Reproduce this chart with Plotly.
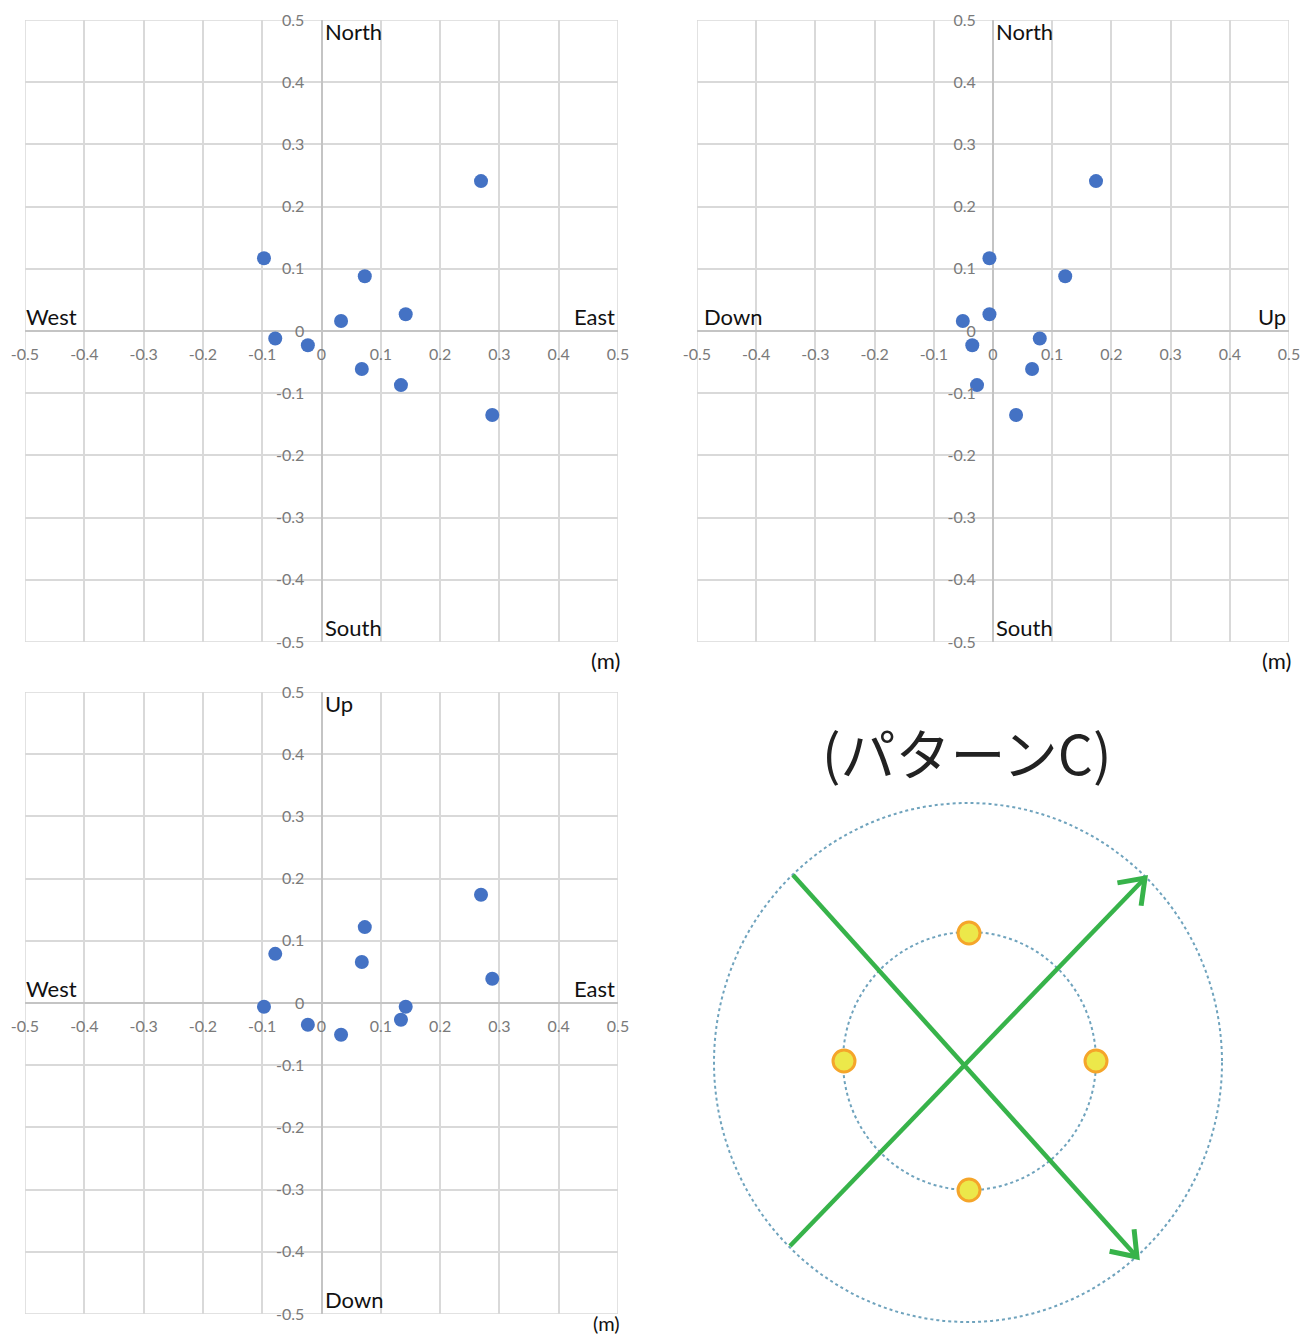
import math
import plotly.graph_objects as go

# ---------------- data (m) ----------------
east  = [0.269, -0.097, 0.073, 0.142, 0.033, -0.078, -0.023, 0.068, 0.134, 0.288]
north = [0.241, 0.117, 0.088, 0.027, 0.016, -0.012, -0.023, -0.061, -0.087, -0.135]
up    = [0.174, -0.006, 0.122, -0.006, -0.051, 0.079, -0.035, 0.066, -0.027, 0.039]

tick_vals = [-0.5, -0.4, -0.3, -0.2, -0.1, 0, 0.1, 0.2, 0.3, 0.4, 0.5]
tick_text = ["-0.5", "-0.4", "-0.3", "-0.2", "-0.1", "0", "0.1", "0.2", "0.3", "0.4", "0.5"]

# schematic (pattern C) geometry, diagram units
outer_circle = [-254, 254, -260, 259]      # x0, x1, y0, y1
inner_circle = [-125, 128, -128, 130]
sensor_x = [1, -124, 128, 1]
sensor_y = [129, 1, 1, -128]
arrow1 = [(-175, 187), (169, -195)]
arrow2 = [(-178, -184), (177, 184)]
title_text = "(パターンC)"

W, H = 1303, 1340
BLUE = "#4472C4"
GRID = "#d9d9d9"
TICKC = "#7a7a7a"
FONT = "Lato"

fig = go.Figure()

panels = [
    (east, north, 25, 618, 20, 642, dict(top="North", bottom="South", left="West", right="East")),
    (up, north, 697, 1289, 20, 642, dict(top="North", bottom="South", left="Down", right="Up")),
    (east, up, 25, 618, 692, 1314, dict(top="Up", bottom="Down", left="West", right="East")),
]

annotations = []
shapes = []
for i, (xd, yd, pl, pr, pt, pb, lab) in enumerate(panels, start=1):
    xs = "" if i == 1 else str(i)
    xname, yname = "x" + xs, "y" + xs
    xdom = [pl / W, pr / W]
    ydom = [1 - pb / H, 1 - pt / H]
    x0paper = (pl + pr) / 2 / W
    y0paper = 1 - (pt + pb) / 2 / H
    fig.add_trace(go.Scatter(
        x=xd, y=yd, mode="markers", xaxis=xname, yaxis=yname,
        marker=dict(size=14, color=BLUE), showlegend=False, hoverinfo="x+y"))
    common = dict(range=[-0.5, 0.5], tickvals=tick_vals, ticktext=tick_text,
                  showgrid=True, gridcolor=GRID, gridwidth=1.5,
                  zeroline=True, zerolinecolor="#c4c4c4", zerolinewidth=2,
                  showline=False, ticks="outside", tickcolor="rgba(0,0,0,0)",
                  tickfont=dict(family=FONT, size=16, color=TICKC),
                  anchor="free", fixedrange=True, automargin=False)
    fig.update_layout(**{
        ("xaxis" + xs): dict(domain=xdom, position=y0paper, ticklen=9, **common),
        ("yaxis" + xs): dict(domain=ydom, position=x0paper, ticklen=14, **common),
    })
    shapes.append(dict(type="rect", xref=xname, yref=yname, x0=-0.5, x1=0.5, y0=-0.5, y1=0.5,
                       line=dict(color=GRID, width=1.5), layer="below"))
    lf = dict(family=FONT, size=22, color="#111111")
    mf = dict(family=FONT, size=(22 if i < 3 else 20), color="#111111")
    annotations += [
        dict(xref=xname, yref=yname, x=0, y=0.5, text=lab["top"], showarrow=False,
             xanchor="left", yanchor="top", xshift=1, yshift=4, font=lf),
        dict(xref=xname, yref=yname, x=0, y=-0.5, text=lab["bottom"], showarrow=False,
             xanchor="left", yanchor="bottom", xshift=1, yshift=-1, font=lf),
        dict(xref=xname, yref=yname, x=-0.5, y=0, text=lab["left"], showarrow=False,
             xanchor="left", yanchor="bottom", xshift=-1 if lab["left"] == "West" else 5, yshift=-1, font=lf),
        dict(xref=xname, yref=yname, x=0.5, y=0, text=lab["right"], showarrow=False,
             xanchor="right", yanchor="bottom", xshift=-1, yshift=-1, font=lf),
        dict(xref=xname, yref=yname, x=0.5, y=-0.5, text="(m)", showarrow=False,
             xanchor="right", yanchor="top", xshift=4, yshift=(-3 if i < 3 else 5), font=mf),
    ]

# ---------------- schematic panel ----------------
cx, cy = 968, 1062
dl, dr, dt, db = 700, 1240, 790, 1335
fig.update_layout(
    xaxis4=dict(domain=[dl / W, dr / W], range=[dl - cx, dr - cx], visible=False,
                fixedrange=True, automargin=False),
    yaxis4=dict(domain=[1 - db / H, 1 - dt / H], range=[cy - db, cy - dt], visible=False,
                fixedrange=True, automargin=False),
)
for c in (outer_circle, inner_circle):
    shapes.append(dict(type="circle", xref="x4", yref="y4", x0=c[0], x1=c[1], y0=c[2], y1=c[3],
                       line=dict(color="#6fa3bd", width=2, dash="dot"), layer="below"))

GREEN = "#37b34a"
for (s, e) in (arrow1, arrow2):
    fig.add_trace(go.Scatter(x=[s[0], e[0]], y=[s[1], e[1]], mode="lines", xaxis="x4", yaxis="y4",
                             line=dict(color=GREEN, width=4.5), showlegend=False, hoverinfo="skip"))
    ang = math.atan2(e[1] - s[1], e[0] - s[0])
    L = 28
    a1 = (e[0] - L * math.cos(ang - math.radians(36)), e[1] - L * math.sin(ang - math.radians(36)))
    a2 = (e[0] - L * math.cos(ang + math.radians(36)), e[1] - L * math.sin(ang + math.radians(36)))
    fig.add_trace(go.Scatter(x=[a1[0], e[0], a2[0]], y=[a1[1], e[1], a2[1]], mode="lines",
                             xaxis="x4", yaxis="y4", line=dict(color=GREEN, width=5),
                             showlegend=False, hoverinfo="skip"))

fig.add_trace(go.Scatter(x=sensor_x, y=sensor_y, mode="markers", xaxis="x4", yaxis="y4",
                         marker=dict(size=22, color="#ece84a", line=dict(color="#f5a52a", width=3)),
                         showlegend=False, hoverinfo="skip"))

annotations.append(dict(xref="paper", yref="paper", x=967 / W, y=1 - 751 / H, text=title_text,
                        showarrow=False, xanchor="center", yanchor="middle",
                        font=dict(family="Noto Sans CJK JP", size=55, color="#222222")))

fig.update_layout(width=W, height=H, margin=dict(l=0, r=0, t=0, b=0, autoexpand=False),
                  paper_bgcolor="white", plot_bgcolor="white",
                  shapes=shapes, annotations=annotations, showlegend=False)

fig.write_html("out.html")
